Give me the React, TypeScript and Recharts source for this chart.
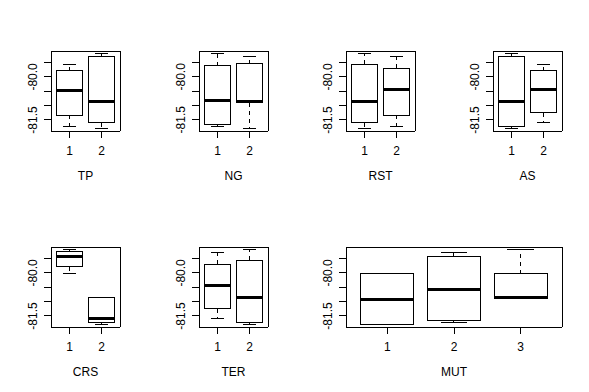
import React from 'react';
import { ComposedChart, Bar, XAxis, YAxis, Label } from 'recharts';

// Each box: [lower whisker, Q1, median, Q3, upper whisker]
const TWO_GROUPS = ['1', '2'];
const THREE_GROUPS = ['1', '2', '3'];
const TP_STATS = [
  [-81.74, -81.33, -80.47, -79.79, -79.55],
  [-81.78, -81.59, -80.87, -79.3, -79.2],
];
const NG_STATS = [
  [-81.74, -81.67, -80.84, -79.61, -79.2],
  [-81.79, -80.9, -80.87, -79.55, -79.3],
];
const RST_STATS = [
  [-81.78, -81.59, -80.87, -79.55, -79.2],
  [-81.74, -81.33, -80.45, -79.7, -79.3],
];
const AS_STATS = [
  [-81.78, -81.74, -80.87, -79.3, -79.2],
  [-81.59, -81.25, -80.45, -79.79, -79.55],
];
const CRS_STATS = [
  [-80.03, -79.79, -79.44, -79.27, -79.2],
  [-81.78, -81.74, -81.59, -80.86, -80.86],
];
const TER_STATS = [
  [-81.6, -81.25, -80.45, -79.69, -79.3],
  [-81.78, -81.74, -80.87, -79.55, -79.2],
];
const MUT_STATS = [
  [-81.78, -81.78, -80.91, -80.03, -80.03],
  [-81.74, -81.67, -80.58, -79.44, -79.3],
  [-80.9, -80.9, -80.87, -80.03, -79.2],
];

const Y_TICKS = [-81.5, -81.0, -80.5, -80.0, -79.5];
const Y_TICK_LABELS = ['-81.5', '', '', '-80.0', ''];

const FONT = '"Liberation Sans Narrow", "Arial Narrow", "Liberation Sans", Arial, sans-serif';
const FS = 12;

function BoxShape(props: any) {
  const { x, y, width, height, payload } = props;
  if (!payload || !payload.stats) return <g />;
  const [lo, q1, med, q3, hi] = payload.stats as number[];
  const top = Math.min(y, y + height);
  const bot = Math.max(y, y + height);
  const py = (v: number) => (hi === lo ? top : top + ((hi - v) / (hi - lo)) * (bot - top));
  const cx = x + width / 2;
  const sx1 = cx - width / 4;
  const sx2 = cx + width / 4;
  const yq1 = py(q1);
  const yq3 = py(q3);
  const ymed = py(med);
  const ylo = py(lo);
  const yhi = py(hi);
  return (
    <g>
      {yhi < yq3 && (
        <line x1={cx} x2={cx} y1={yq3} y2={yhi} stroke="#000" strokeWidth={1} strokeDasharray="4 4" shapeRendering="crispEdges" />
      )}
      {ylo > yq1 && (
        <line x1={cx} x2={cx} y1={yq1} y2={ylo} stroke="#000" strokeWidth={1} strokeDasharray="4 4" shapeRendering="crispEdges" />
      )}
      <line x1={sx1} x2={sx2} y1={yhi} y2={yhi} stroke="#000" strokeWidth={1} shapeRendering="crispEdges" />
      <line x1={sx1} x2={sx2} y1={ylo} y2={ylo} stroke="#000" strokeWidth={1} shapeRendering="crispEdges" />
      <rect x={x} y={yq3} width={width} height={Math.max(0, yq1 - yq3)} fill="none" stroke="#000" strokeWidth={1} shapeRendering="crispEdges" />
      <line x1={x} x2={x + width} y1={ymed} y2={ymed} stroke="#000" strokeWidth={3} shapeRendering="crispEdges" />
    </g>
  );
}

const XTick = (props: any) => {
  const { x, y, payload } = props;
  return (
    <text x={x} y={y + 17} textAnchor="middle" fontSize={FS} fill="#000" fontFamily={FONT}>
      {payload.value}
    </text>
  );
};

const YTick = (props: any) => {
  const { x, y, payload } = props;
  const i = Y_TICKS.indexOf(payload.value);
  const label = i >= 0 ? Y_TICK_LABELS[i] : '';
  if (!label) return <g />;
  const cx = x - 11;
  return (
    <text
      x={cx}
      y={y}
      dy="0.35em"
      transform={`rotate(-90 ${cx} ${y})`}
      textAnchor="middle"
      fontSize={FS}
      fill="#000"
      fontFamily={FONT}
    >
      {label}
    </text>
  );
};

type PanelProps = {
  title: string;
  groups: string[];
  stats: number[][];
  left: number;
  top: number;
  w: number;
  h: number;
};

const ML = 45;
const MT = 10;
const MB = 60;
const MR = 6;

function Panel({ title, groups, stats, left, top, w, h }: PanelProps) {
  const data = groups.map((g, i) => ({ name: g, range: [stats[i][0], stats[i][4]], stats: stats[i] }));
  const all = stats.flat();
  const mn = Math.min(...all);
  const mx = Math.max(...all);
  const ext = (mx - mn) * 0.04;
  const domain: [number, number] = [mn - ext, mx + ext];
  const pad = w / 27;
  const TitleContent = (p: any) => {
    const vb = p.viewBox || {};
    return (
      <text x={vb.x + vb.width / 2} y={vb.y + 49} textAnchor="middle" fontSize={FS} fill="#000" fontFamily={FONT}>
        {title}
      </text>
    );
  };
  return (
    <div style={{ position: 'absolute', left: left - ML, top: top - MT }}>
      <ComposedChart
        width={ML + w + MR}
        height={MT + h + MB}
        data={data}
        margin={{ top: MT - 1, right: MR - 1, left: 0, bottom: 0 }}
        barCategoryGap="10%"
      >
        <XAxis
          dataKey="name"
          type="category"
          padding={{ left: pad, right: pad }}
          height={MB}
          tickSize={7}
          tickMargin={0}
          interval={0}
          tick={XTick}
          tickLine={{ stroke: '#000', shapeRendering: 'crispEdges' }}
          axisLine={{ stroke: '#000', shapeRendering: 'crispEdges' }}
        >
          <Label content={TitleContent} />
        </XAxis>
        <XAxis
          xAxisId="top"
          dataKey="name"
          type="category"
          orientation="top"
          height={1}
          tick={false}
          tickLine={false}
          axisLine={{ stroke: '#000', shapeRendering: 'crispEdges' }}
        />
        <YAxis
          type="number"
          domain={domain}
          allowDataOverflow
          ticks={Y_TICKS}
          interval={0}
          width={ML}
          tickSize={7}
          tickMargin={0}
          tick={YTick}
          tickLine={{ stroke: '#000', shapeRendering: 'crispEdges' }}
          axisLine={{ stroke: '#000', shapeRendering: 'crispEdges' }}
        />
        <YAxis
          yAxisId="right"
          orientation="right"
          type="number"
          domain={domain}
          allowDataOverflow
          width={1}
          tick={false}
          tickLine={false}
          axisLine={{ stroke: '#000', shapeRendering: 'crispEdges' }}
        />
        <Bar dataKey="range" shape={BoxShape} isAnimationActive={false} />
      </ComposedChart>
    </div>
  );
}

export default function App() {
  return (
    <div
      style={{
        position: 'absolute',
        left: 0,
        top: 0,
        width: 589,
        height: 392,
        background: '#fff',
        overflow: 'hidden',
        fontFamily: FONT,
      }}
    >
      <Panel title="TP" groups={TWO_GROUPS} stats={TP_STATS} left={51} top={51} w={69} h={80} />
      <Panel title="NG" groups={TWO_GROUPS} stats={NG_STATS} left={199} top={51} w={69} h={80} />
      <Panel title="RST" groups={TWO_GROUPS} stats={RST_STATS} left={346} top={51} w={69} h={80} />
      <Panel title="AS" groups={TWO_GROUPS} stats={AS_STATS} left={493} top={51} w={69} h={80} />
      <Panel title="CRS" groups={TWO_GROUPS} stats={CRS_STATS} left={51} top={247} w={69} h={80} />
      <Panel title="TER" groups={TWO_GROUPS} stats={TER_STATS} left={199} top={247} w={69} h={80} />
      <Panel title="MUT" groups={THREE_GROUPS} stats={MUT_STATS} left={346} top={247} w={216} h={80} />
    </div>
  );
}
